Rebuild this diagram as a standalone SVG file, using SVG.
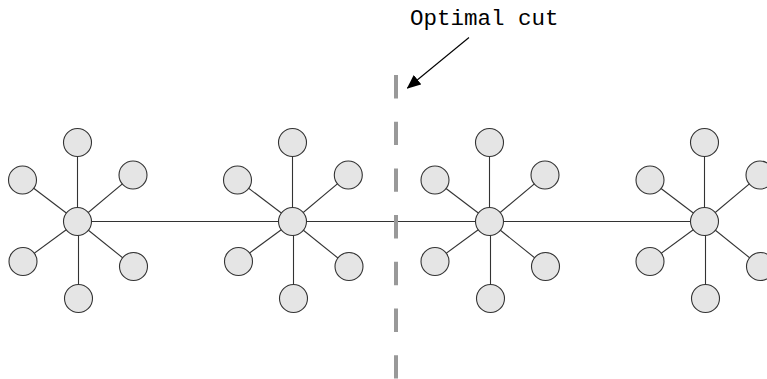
<svg xmlns="http://www.w3.org/2000/svg" width="767" height="379" viewBox="0 0 767 379">
  <style>
    .edge { stroke: #333333; stroke-width: 1.1; fill: none; }
    .node { fill: #e5e5e5; stroke: #333333; stroke-width: 1.1; }
    .cut { stroke: #999999; stroke-width: 4; stroke-dasharray: 23.4 23.3; fill: none; }
    .label { font-family: "Liberation Mono", "DejaVu Sans Mono", monospace; font-size: 22.5px; fill: #000000; }
    .pointer { stroke: #000000; stroke-width: 1.1; fill: none; }
  </style>
  <defs>
    <marker id="arrowhead" markerWidth="14" markerHeight="12" refX="13" refY="6" orient="auto" markerUnits="userSpaceOnUse">
      <path d="M0,0 L14,6 L0,12 Z" fill="#000000"/>
    </marker>
    <!-- one star: leaf circles around a hub at the origin -->
    <g id="star-edges">
      <line x1="0" y1="0" x2="0" y2="-79"/>
      <line x1="0" y1="0" x2="-55" y2="-41.7"/>
      <line x1="0" y1="0" x2="55.6" y2="-46.7"/>
      <line x1="0" y1="0" x2="-54.5" y2="40"/>
      <line x1="0" y1="0" x2="56" y2="45"/>
      <line x1="1" y1="0" x2="1" y2="77"/>
    </g>
  </defs>

  <!-- connectors -->
  <g id="connectors">
    <line class="edge" x1="77.5" y1="221.5" x2="704.5" y2="221.5"/>
    <use href="#star-edges" class="edge" transform="translate(77.5,221.5)"/>
    <use href="#star-edges" class="edge" transform="translate(292.5,221.5)"/>
    <use href="#star-edges" class="edge" transform="translate(489.5,221.5)"/>
    <use href="#star-edges" class="edge" transform="translate(704.5,221.5)"/>
  </g>

  <!-- cut line and its label -->
  <g id="cut">
    <line class="cut" x1="396" y1="75" x2="396" y2="379"/>
  </g>
  <g id="cut-label">
    <text class="label" x="410" y="25">Optimal cut</text>
    <line class="pointer" x1="469" y1="37.5" x2="407.5" y2="88" marker-end="url(#arrowhead)"/>
  </g>

  <!-- star 1 -->
  <g id="star1">
    <circle class="node" cx="77.5" cy="221.5" r="14"/>
    <circle class="node" cx="77.5" cy="142.5" r="14"/>
    <circle class="node" cx="22.5" cy="180" r="14"/>
    <circle class="node" cx="133" cy="175" r="14"/>
    <circle class="node" cx="23" cy="261.5" r="14"/>
    <circle class="node" cx="133.5" cy="266.5" r="14"/>
    <circle class="node" cx="78.5" cy="298.5" r="14"/>
  </g>

  <!-- star 2 -->
  <g id="star2">
    <circle class="node" cx="292.5" cy="221.5" r="14"/>
    <circle class="node" cx="292.5" cy="142.5" r="14"/>
    <circle class="node" cx="237.5" cy="180" r="14"/>
    <circle class="node" cx="348.3" cy="175" r="14"/>
    <circle class="node" cx="238.5" cy="261.5" r="14"/>
    <circle class="node" cx="349" cy="266.5" r="14"/>
    <circle class="node" cx="293.5" cy="298.5" r="14"/>
  </g>

  <!-- star 3 -->
  <g id="star3">
    <circle class="node" cx="489.5" cy="221.5" r="14"/>
    <circle class="node" cx="489.5" cy="142.5" r="14"/>
    <circle class="node" cx="435" cy="180" r="14"/>
    <circle class="node" cx="545" cy="175" r="14"/>
    <circle class="node" cx="435" cy="261.5" r="14"/>
    <circle class="node" cx="545.5" cy="266.5" r="14"/>
    <circle class="node" cx="490.5" cy="298.5" r="14"/>
  </g>

  <!-- star 4 -->
  <g id="star4">
    <circle class="node" cx="704.5" cy="221.5" r="14"/>
    <circle class="node" cx="704.5" cy="142.5" r="14"/>
    <circle class="node" cx="650" cy="180" r="14"/>
    <circle class="node" cx="760" cy="175" r="14"/>
    <circle class="node" cx="650" cy="261.5" r="14"/>
    <circle class="node" cx="760.5" cy="266.5" r="14"/>
    <circle class="node" cx="705.5" cy="298.5" r="14"/>
  </g>
</svg>
